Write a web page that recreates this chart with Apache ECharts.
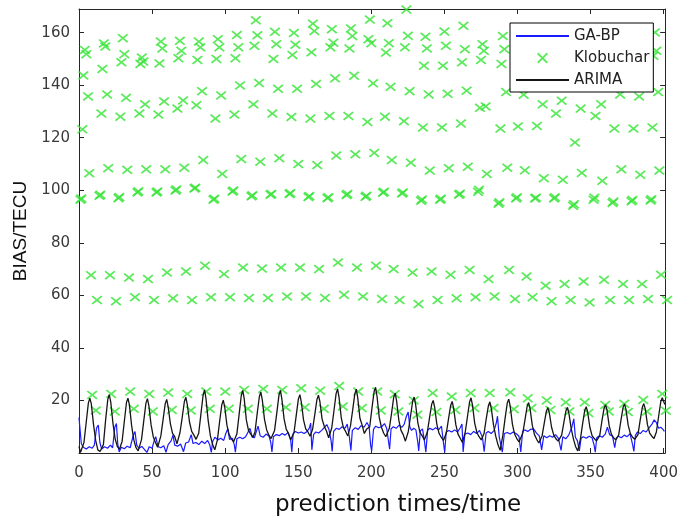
<!DOCTYPE html>
<html>
<head>
<meta charset="utf-8">
<script src="https://cdn.jsdelivr.net/npm/echarts@6/dist/echarts.min.js"></script>
<style>
  html, body { margin: 0; padding: 0; background: #fff; }
  #chart { width: 681px; height: 522px; }
</style>
</head>
<body>
<div id="chart"></div>
<script>
// Tick values shown on the axes
const xTicks = [0, 50, 100, 150, 200, 250, 300, 350, 400];
const yTicks = [20, 40, 60, 80, 100, 120, 140, 160];

// Klobuchar bias: one group of samples every ~13 prediction steps
const klobTimes = [1, 14, 27, 40, 53, 66, 79, 92, 105, 118, 131, 144, 157, 170, 183, 196,
                   208, 221, 234, 247, 260, 273, 287, 299, 312, 325, 338, 352, 365, 378, 391];
// time lag of each sample within its group
const klobLag = [0, 0.6, 1.3, 2, 3, 4, 5.2, 6, 7.2, 8, 10.5, 11.3];

const klob1 = [96.4, 97.9, 97.0, 99.2, 99.2, 99.9, 100.7, 96.4, 99.5, 97.7, 98.3, 98.6, 97.4, 97.0, 98.2, 97.5,
               99.1, 98.8, 96.0, 96.4, 98.3, 99.4, 94.9, 96.9, 96.9, 96.9, 94.1, 96.4, 95.2, 95.8, 96.1];
const klob2 = [96.9, 98.3, 97.4, 99.6, 99.5, 100.3, 101.0, 96.8, 99.9, 98.1, 98.6, 98.9, 97.8, 97.3, 98.6, 97.9,
               99.4, 99.2, 96.5, 96.8, 98.7, 100.2, 95.4, 97.3, 97.2, 97.3, 94.7, 97.2, 95.7, 96.3, 96.6];
const klob3 = [123.2, 129.2, 128.0, 129.2, 128.8, 131.1, 132.4, 127.3, 128.8, 132.7, 129.2, 127.9, 127.3, 128.3, 128.3, 126.0,
               128.0, 126.3, 123.9, 123.9, 125.4, 131.4, 123.5, 124.3, 124.5, 129.2, 118.2, 128.3, 123.5, 123.5, 123.9];
const klob4 = [143.7, 146.2, 148.7, 148.1, 148.3, 150.3, 149.6, 150.0, 150.3, 155.0, 150.0, 151.5, 152.5, 154.4, 154.0, 157.5,
               152.4, 154.4, 147.4, 147.4, 148.7, 149.6, 148.1, 151.0, 150.0, 149.0, 152.0, 150.0, 151.0, 152.0, 151.2];
const klob5 = [153.4, 155.9, 157.9, 150.5, 156.6, 156.9, 156.6, 157.5, 159.1, 164.7, 160.3, 159.9, 163.4, 161.3, 161.6, 165.0,
               163.6, 168.8, 158.4, 160.4, 162.6, 155.6, 158.7, 160.0, 158.0, 159.0, 161.0, 158.0, 160.0, 159.0, 160.1];
const klob6 = [151.8, 154.7, 151.8, 149.0, 154.0, 153.1, 154.4, 154.4, 154.4, 159.0, 155.6, 155.4, 160.6, 156.2, 158.7, 156.0,
               156.0, 158.8, 154.0, 155.0, 153.7, 153.1, 153.7, 155.0, 154.0, 153.0, 156.0, 155.0, 154.0, 155.0, 153.1];
const klob7 = [135.7, 136.5, 135.2, 132.7, 133.8, 134.2, 137.7, 136.1, 139.9, 140.8, 138.6, 138.6, 140.5, 142.6, 143.6, 140.7,
               139.4, 137.7, 136.5, 136.7, 137.9, 131.9, 137.4, 136.4, 132.7, 134.1, 131.1, 132.7, 136.5, 135.7, 137.4];
const klob8 = [106.5, 108.4, 107.8, 108.0, 108.0, 108.6, 111.5, 106.2, 111.9, 110.9, 112.2, 110.0, 109.6, 113.2, 113.7, 114.2,
               111.5, 110.5, 107.5, 108.4, 109.0, 106.2, 108.6, 107.6, 104.6, 104.0, 106.6, 103.6, 108.0, 105.9, 107.5];
const klob9 = [67.7, 67.7, 66.8, 66.2, 68.7, 69.1, 71.3, 68.1, 70.6, 70.2, 70.6, 70.6, 70.0, 72.5, 70.6, 71.3,
               70.0, 68.7, 69.1, 67.8, 69.7, 66.2, 69.7, 67.2, 63.7, 64.3, 65.3, 65.9, 64.3, 64.3, 67.8];
const klob10 = [22.1, 22.5, 23.4, 22.5, 23.0, 22.5, 23.4, 23.4, 24.0, 24.4, 24.0, 24.6, 23.7, 25.5, 23.4, 23.4,
                22.4, 20.0, 22.8, 21.5, 22.8, 22.8, 23.1, 20.8, 20.0, 19.3, 19.3, 18.3, 18.7, 20.2, 22.5];
const klob11 = [16.2, 15.8, 16.8, 15.8, 16.4, 16.2, 16.8, 16.8, 16.8, 16.8, 17.4, 17.4, 16.8, 17.7, 17.1, 16.2,
                15.8, 14.6, 15.6, 16.4, 17.1, 17.1, 16.7, 17.1, 16.4, 15.8, 15.2, 15.8, 15.6, 15.8, 16.1];
const klob12 = [58.2, 57.8, 59.3, 58.2, 58.9, 58.2, 59.3, 59.3, 59.0, 59.0, 59.6, 59.6, 59.0, 60.2, 59.6, 58.6,
                58.2, 56.7, 58.2, 58.9, 59.3, 59.6, 58.6, 59.3, 57.8, 58.2, 57.3, 58.2, 58.2, 58.6, 58.2];
const klobRows = [klob1, klob2, klob3, klob4, klob5, klob6, klob7, klob8, klob9, klob10, klob11, klob12];

// GA-BP prediction bias
const gabpTimes = [0, 0.8, 1.6, 3, 5, 7, 9, 10.5, 12, 13.2, 14.3, 15.5, 17.5, 19.5, 21.5, 23, 24.5, 25.6, 26.5, 27.5,
  29, 31, 33, 35, 37, 38.3, 39.5, 41, 43, 45, 46.5, 48, 50, 51.5, 52.5, 54, 56, 58, 59.5, 61,
  63, 64.3, 65.5, 67.5, 69.5, 71.5, 73, 75, 76.8, 78, 80, 82, 84, 86, 88, 89.5, 90.5, 91.5, 93, 95,
  97, 99, 100.5, 101.8, 103, 105, 106.3, 107, 108, 110, 112, 114, 115.5, 117, 118.5, 120, 121.5, 122.5, 124, 126,
  128, 130, 131.2, 132, 133, 135, 137, 139, 141, 143, 144.8, 145.6, 146.5, 148, 150, 152, 154, 156, 157.5, 158.5,
  159.3, 160.5, 162, 164, 166, 168, 169.5, 171, 172.5, 173.2, 174.2, 176, 178, 180, 182, 183.5, 185, 186, 187, 189,
  191, 193, 195, 197, 198.5, 199.5, 200.2, 201.5, 203, 205, 207, 209, 210.5, 211.8, 212.5, 213.5, 215, 217, 219, 221,
  222.5, 224, 225.2, 226.3, 227.5, 229, 230.5, 231.8, 232.4, 233.5, 235, 236.2, 237.3, 238.5, 240, 242, 244, 246, 248, 249.3,
  250.2, 251.2, 253, 255, 257, 259, 260.8, 262, 262.8, 264, 266, 268, 270, 272, 274, 276, 277.2, 278.5, 280, 282,
  284, 285.5, 286.3, 287.5, 289.6, 291, 293, 295, 297, 299, 301, 302.2, 303.5, 305, 307, 309, 311, 313, 315, 316.5,
  318, 320, 322, 324, 326, 328, 329.8, 331, 333, 335, 337, 338.5, 339.6, 341, 342.3, 343.5, 345, 347, 349, 351,
  352.4, 353.2, 354.2, 356, 358, 360, 361.5, 363, 365, 366.5, 367.5, 369, 371, 373, 375, 377, 378.8, 379.6, 380.6, 382,
  384, 386, 388, 390, 392, 393.5, 395, 396.5, 398, 399.5, 400.5];
const gabpBias = [13.5, 13.0, 3.5, 2.2, 1.5, 2.4, 1.8, 3.0, 9.5, 10.6, 4.0, 1.5, 2.4, 1.8, 3.0, 2.0, 9.8, 11.2, 3.5, 0.4,
  2.2, 1.6, 2.6, 2.0, 6.5, 8.2, 3.0, 1.8, 2.5, 1.2, 0.2, 2.4, 1.8, 4.8, 6.2, 2.5, 2.0, 2.8, 0.3, 3.2,
  4.6, 6.8, 3.0, 2.6, 3.4, 0.5, 3.8, 4.2, 7.0, 3.6, 4.0, 3.2, 4.5, 3.6, 4.8, 3.0, 0.2, 4.5, 6.0, 5.0,
  5.6, 4.8, 7.5, 9.2, 5.2, 5.6, 3.0, 0.3, 5.4, 6.0, 5.4, 6.2, 7.8, 9.4, 6.0, 5.8, 8.5, 10.2, 6.5, 6.0,
  7.2, 6.4, 4.0, 0.4, 6.2, 7.0, 6.6, 7.4, 6.8, 7.8, 5.0, 0.3, 7.4, 8.2, 7.6, 8.0, 7.4, 8.2, 9.4, 11.4,
  1.2, 7.0, 8.0, 7.6, 8.6, 9.8, 10.8, 9.0, 4.5, 0.6, 8.2, 9.4, 9.0, 10.0, 9.4, 11.0, 6.0, 1.0, 8.6, 9.6,
  9.0, 10.4, 9.8, 11.6, 10.0, 3.0, 0.8, 9.0, 10.2, 9.6, 10.0, 11.2, 9.4, 4.2, 1.5, 9.2, 10.0, 9.4, 10.6, 9.8,
  11.0, 14.0, 15.6, 10.0, 8.6, 9.4, 8.8, 4.0, 0.8, 8.4, 9.2, 5.0, 0.3, 8.6, 9.4, 8.8, 9.6, 8.8, 10.2, 4.0,
  0.2, 8.0, 8.6, 8.0, 8.8, 8.0, 9.6, 11.0, 0.4, 7.2, 7.6, 7.0, 8.2, 7.4, 8.6, 6.0, 0.5, 7.6, 8.2, 7.4,
  8.6, 11.5, 14.0, 6.0, 0.3, 7.4, 7.8, 7.2, 8.0, 7.4, 6.4, 0.4, 8.2, 8.8, 8.2, 9.0, 9.2, 7.6, 6.4, 1.2,
  6.6, 5.8, 6.6, 6.0, 7.0, 5.6, 1.0, 6.2, 5.4, 6.8, 9.5, 13.0, 6.0, 4.6, 0.8, 5.6, 6.2, 5.6, 6.4, 5.8,
  3.0, 0.3, 5.8, 6.6, 6.0, 7.2, 9.8, 7.0, 6.4, 2.0, 5.6, 6.4, 5.8, 6.8, 6.2, 7.4, 3.0, 0.6, 6.6, 8.0,
  7.4, 8.6, 8.0, 9.6, 11.0, 12.6, 11.6, 9.4, 9.8, 9.0, 8.2];

// ARIMA prediction bias
const arimaTimes = [0, 1, 2,
  3.4, 4.9, 6.4, 7.4, 8.4, 9.9, 11.4, 12.9, 14.4,
  16.7, 18.2, 19.7, 20.7, 21.7, 23.2, 24.7, 26.2, 27.7,
  29.5, 31, 32.5, 33.5, 34.5, 36, 37.5, 39, 40.5,
  42.8, 44.3, 45.8, 46.8, 47.8, 49.3, 50.8, 52.3, 53.8,
  56, 57.5, 59, 60, 61, 62.5, 64, 65.5, 67,
  69.1, 70.6, 72.1, 73.1, 74.1, 75.6, 77.1, 78.6, 80.1,
  81.9, 83.4, 84.9, 85.9, 86.9, 88.4, 89.9, 91.4, 92.9,
  94.7, 96.2, 97.7, 98.7, 99.7, 101.2, 102.7, 104.2, 105.7,
  108, 109.5, 111, 112, 113, 114.5, 116, 117.5, 119,
  120.4, 121.9, 123.4, 124.4, 125.4, 126.9, 128.4, 129.9, 131.4,
  133.8, 135.3, 136.8, 137.8, 138.8, 140.3, 141.8, 143.3, 144.8,
  147.1, 148.6, 150.1, 151.1, 152.1, 153.6, 155.1, 156.6, 158.1,
  159.8, 161.3, 162.8, 163.8, 164.8, 166.3, 167.8, 169.3, 170.8,
  172.9, 174.4, 175.9, 176.9, 177.9, 179.4, 180.9, 182.4, 183.9,
  185.7, 187.2, 188.7, 189.7, 190.7, 192.2, 193.7, 195.2, 196.7,
  198.9, 200.4, 201.9, 202.9, 203.9, 205.4, 206.9, 208.4, 209.9,
  212.3, 213.8, 215.3, 216.3, 217.3, 218.8, 220.3, 221.8, 223.3,
  225.3, 226.8, 228.3, 229.3, 230.3, 231.8, 233.3, 234.8, 236.3,
  238.3, 239.8, 241.3, 242.3, 243.3, 244.8, 246.3, 247.8, 249.3,
  251.3, 252.8, 254.3, 255.3, 256.3, 257.8, 259.3, 260.8, 262.3,
  264.2, 265.7, 267.2, 268.2, 269.2, 270.7, 272.2, 273.7, 275.2,
  277.1, 278.6, 280.1, 281.1, 282.1, 283.6, 285.1, 286.6, 288.1,
  290, 291.5, 293, 294, 295, 296.5, 298, 299.5, 301,
  303.6, 305.1, 306.6, 307.6, 308.6, 310.1, 311.6, 313.1, 314.6,
  316.8, 318.3, 319.8, 320.8, 321.8, 323.3, 324.8, 326.3, 327.8,
  330.2, 331.7, 333.2, 334.2, 335.2, 336.7, 338.2, 339.7, 341.2,
  343, 344.5, 346, 347, 348, 349.5, 351, 352.5, 354,
  356.2, 357.7, 359.2, 360.2, 361.2, 362.7, 364.2, 365.7, 367.2,
  369.2, 370.7, 372.2, 373.2, 374.2, 375.7, 377.2, 378.7, 380.2,
  382.4, 383.9, 385.4, 386.4, 387.4, 388.9, 390.4, 391.9, 393.4,
  395, 396.5, 398, 399, 400, 400.8];
const arimaBias = [2.5, 0.2, 0.6,
  4.0, 11.5, 19.0, 20.9, 18.8, 11.0, 4.8, 1.2, 0.6,
  3.2, 12.5, 20.4, 22.2, 19.5, 11.5, 5.5, 2.5, 1.4,
  4.5, 12.0, 19.3, 20.9, 18.2, 10.4, 5.0, 2.0, 0.8,
  5.2, 12.2, 19.0, 20.7, 18.0, 10.8, 6.2, 4.0, 2.2,
  6.5, 12.6, 18.8, 20.4, 17.6, 11.2, 7.5, 6.2, 3.5,
  7.8, 13.5, 19.6, 21.2, 18.4, 11.8, 8.2, 6.8, 5.2,
  7.5, 14.8, 22.0, 24.0, 20.6, 12.2, 6.5, 3.2, 1.2,
  5.0, 12.0, 18.4, 20.1, 17.5, 10.6, 7.0, 5.5, 4.2,
  7.2, 14.5, 21.8, 23.8, 20.8, 12.5, 8.5, 7.2, 6.0,
  8.0, 15.0, 21.5, 23.2, 20.2, 12.8, 8.8, 6.8, 5.5,
  8.6, 15.2, 22.0, 23.8, 20.5, 13.0, 9.0, 7.5, 5.0,
  7.8, 14.2, 20.6, 22.2, 19.4, 12.6, 9.2, 8.0, 6.4,
  9.0, 14.6, 20.4, 22.0, 19.6, 12.9, 10.2, 8.4, 5.8,
  9.5, 16.0, 22.6, 24.4, 21.2, 13.5, 9.6, 8.2, 6.5,
  10.2, 16.2, 22.5, 24.3, 21.0, 13.2, 10.6, 7.4, 9.0,
  10.0, 17.0, 23.4, 25.0, 21.5, 13.6, 9.8, 7.6, 6.2,
  9.4, 15.0, 21.2, 22.8, 19.8, 12.5, 8.6, 7.0, 4.5,
  8.2, 14.0, 19.8, 21.3, 18.4, 11.6, 7.8, 6.5, 5.0,
  8.0, 13.4, 18.6, 20.0, 17.5, 11.0, 7.5, 6.0, 4.8,
  7.6, 13.0, 18.2, 19.6, 17.0, 10.8, 7.2, 5.6, 4.0,
  7.8, 13.6, 19.4, 21.0, 18.2, 11.4, 7.8, 6.2, 5.0,
  7.4, 13.0, 18.0, 19.5, 16.8, 10.6, 6.4, 3.2, 1.0,
  6.8, 13.2, 19.0, 20.5, 17.8, 11.0, 7.2, 5.5, 4.2,
  7.5, 12.6, 17.8, 19.2, 16.8, 10.6, 7.0, 5.2, 3.8,
  6.5, 11.4, 16.0, 17.3, 15.2, 9.8, 6.8, 5.4, 4.5,
  6.8, 11.6, 16.2, 17.4, 15.0, 9.4, 5.5, 2.5, 0.8,
  5.2, 11.0, 16.2, 17.6, 15.5, 9.8, 6.6, 5.5, 4.6,
  6.5, 12.0, 17.0, 18.4, 16.4, 10.4, 7.2, 5.8, 5.0,
  6.8, 12.2, 17.3, 18.7, 16.6, 10.6, 7.4, 6.0, 5.2,
  7.0, 12.4, 17.4, 18.8, 16.8, 10.8, 7.6, 6.4, 5.5,
  8.0, 13.8, 19.5, 21.0, 19.6, 18.5];

// MATLAB-style 'x' marker outline
const crossPath = 'path://M0,1.25L1.25,0L5,3.75L8.75,0L10,1.25L6.25,5L10,8.75L8.75,10L5,6.25L1.25,10L0,8.75L3.75,5Z';

const pairs = (xs, ys) => xs.map((x, i) => [x, ys[i]]);
const klobData = [];
klobRows.forEach((row, r) => {
  row.forEach((v, i) => klobData.push([klobTimes[i] + klobLag[r], v]));
});

const axisColor = '#262626';
const X_MIN = 0, X_MAX = 401, Y_MIN = 0, Y_MAX = 169;

const chart = echarts.init(document.getElementById('chart'), null, { renderer: 'canvas' });

const baseAxis = {
  type: 'value',
  axisLine: { show: true, onZero: false, lineStyle: { color: axisColor, width: 1 } },
  axisTick: { show: true, inside: true, length: 5, lineStyle: { color: axisColor } },
  splitLine: { show: false }
};

chart.setOption({
  animation: false,
  backgroundColor: '#fff',
  grid: { left: 79, right: 14, top: 9, bottom: 67 },
  xAxis: [
    Object.assign({}, baseAxis, {
      position: 'bottom', min: X_MIN, max: X_MAX,
      axisTick: Object.assign({}, baseAxis.axisTick, { customValues: xTicks }),
      axisLabel: { customValues: xTicks, margin: 13, color: '#3a3a3a', fontFamily: 'DejaVu Sans', fontSize: 15 },
      name: 'prediction times/time', nameLocation: 'middle', nameGap: 41,
      nameTextStyle: { fontFamily: 'DejaVu Sans', fontSize: 23, color: '#111', padding: [0, 0, 0, 52] }
    }),
    Object.assign({}, baseAxis, {
      position: 'top', min: X_MIN, max: X_MAX,
      axisTick: Object.assign({}, baseAxis.axisTick, { customValues: xTicks }),
      axisLabel: { show: false }
    })
  ],
  yAxis: [
    Object.assign({}, baseAxis, {
      position: 'left', min: Y_MIN, max: Y_MAX,
      axisTick: Object.assign({}, baseAxis.axisTick, { customValues: yTicks }),
      axisLabel: { customValues: yTicks, margin: 9, color: '#3a3a3a', fontFamily: 'DejaVu Sans', fontSize: 15 },
      name: 'BIAS/TECU', nameLocation: 'middle', nameGap: 41, nameRotate: 90,
      nameTextStyle: { fontFamily: 'Liberation Sans', fontSize: 19, color: '#111' }
    }),
    Object.assign({}, baseAxis, {
      position: 'right', min: Y_MIN, max: Y_MAX,
      axisTick: Object.assign({}, baseAxis.axisTick, { customValues: yTicks }),
      axisLabel: { show: false }
    })
  ],
  legend: {
    orient: 'vertical',
    left: 510, top: 23,
    padding: [4, 4, 3, 5],
    itemGap: 4,
    itemWidth: 53, itemHeight: 11,
    backgroundColor: '#fff',
    borderColor: '#000', borderWidth: 1,
    textStyle: { fontFamily: 'DejaVu Sans', fontSize: 15, color: '#222', lineHeight: 18 },
    data: [
      { name: 'GA-BP', itemStyle: { opacity: 0 } },
      { name: 'Klobuchar' },
      { name: 'ARIMA', itemStyle: { opacity: 0 } }
    ]
  },
  series: [
    {
      name: 'GA-BP', type: 'line', data: pairs(gabpTimes, gabpBias),
      symbol: 'none', showSymbol: false,
      lineStyle: { color: '#1a1aff', width: 1.2 }, itemStyle: { color: '#1a1aff' },
      z: 2
    },
    {
      name: 'Klobuchar', type: 'scatter', data: klobData,
      symbol: crossPath, symbolSize: [11, 9], clip: false,
      itemStyle: { color: '#33e433' }, z: 3
    },
    {
      name: 'ARIMA', type: 'line', data: pairs(arimaTimes, arimaBias),
      symbol: 'none', showSymbol: false,
      lineStyle: { color: '#151515', width: 1.3 }, itemStyle: { color: '#151515' },
      z: 4
    }
  ]
});
</script>
</body>
</html>
